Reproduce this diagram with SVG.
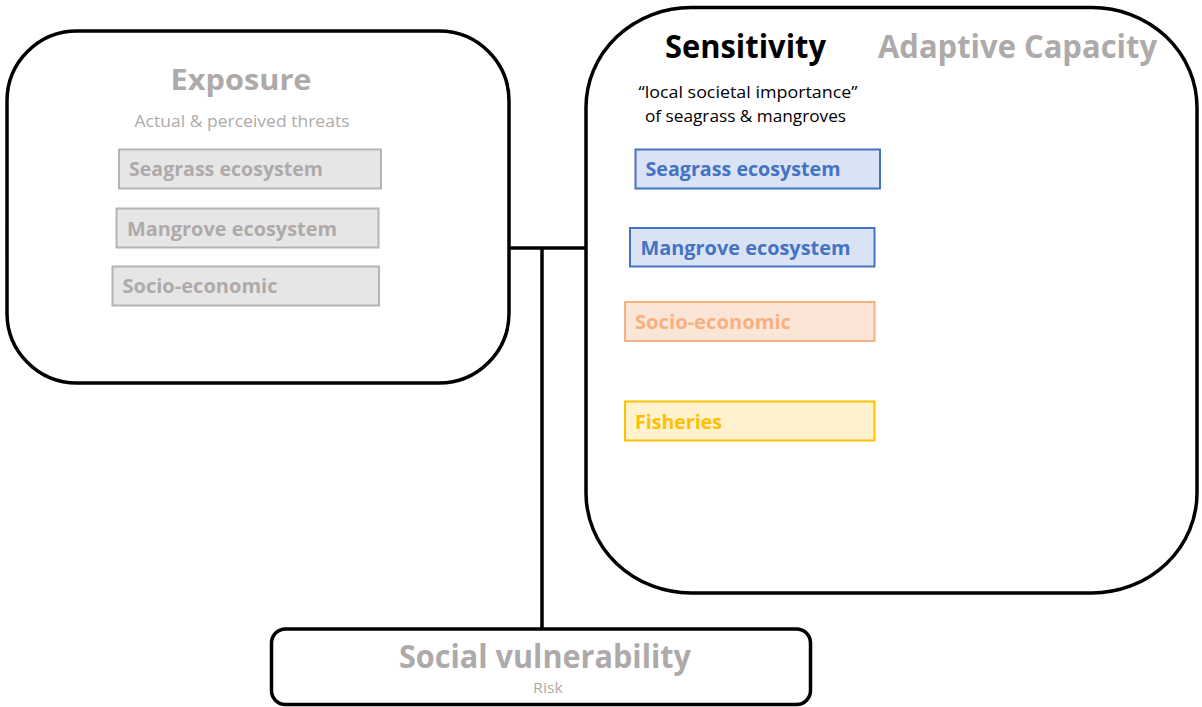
<svg xmlns="http://www.w3.org/2000/svg" width="1202" height="707" viewBox="0 0 1202 707">
<style>
text{font-family:"Open Sans","Liberation Sans",sans-serif;}
.big{fill:none;stroke:#000;stroke-width:3.5;}
.t{font-weight:bold;}
.g{fill:#aeaaaa;}
.gbox{fill:#e7e6e6;stroke:#b4b4b4;stroke-width:2;}
.bbox{fill:#dae3f3;stroke:#4472c4;stroke-width:2;}
.obox{fill:#fbe5d6;stroke:#f4b183;stroke-width:2;}
.ybox{fill:#fff2cc;stroke:#ffc000;stroke-width:2;}
.lbl{font-weight:bold;font-size:19px;}
.conn{stroke:#000;stroke-width:3.5;fill:none;}
</style>
<rect width="1202" height="707" fill="#fff"/>
<g id="connectors">
<line class="conn" x1="509" y1="248" x2="586" y2="248"/>
<line class="conn" x1="542" y1="248" x2="542" y2="629"/>
</g>
<g id="exposure">
<rect class="big" x="7" y="31" width="502" height="352" rx="70" ry="70" fill="#fff"/>
<text class="t g" x="241" y="90" font-size="28" text-anchor="middle" textLength="141" lengthAdjust="spacingAndGlyphs">Exposure</text>
<text class="g" x="242" y="127" font-size="15.5" text-anchor="middle" textLength="215" lengthAdjust="spacingAndGlyphs">Actual &amp; perceived threats</text>
<rect class="gbox" x="119" y="149.5" width="262" height="39"/>
<text class="lbl g" x="129" y="176" textLength="194" lengthAdjust="spacingAndGlyphs">Seagrass ecosystem</text>
<rect class="gbox" x="116.5" y="208.5" width="262" height="39"/>
<text class="lbl g" x="127" y="236" textLength="210" lengthAdjust="spacingAndGlyphs">Mangrove ecosystem</text>
<rect class="gbox" x="112.5" y="266.5" width="266.5" height="39"/>
<text class="lbl g" x="122.5" y="293" textLength="155" lengthAdjust="spacingAndGlyphs">Socio-economic</text>
</g>
<g id="sensitivity">
<rect class="big" x="586" y="7.5" width="611" height="585.5" rx="105" ry="100" fill="#fff"/>
<text class="t" x="665" y="58" font-size="32" fill="#000" textLength="161" lengthAdjust="spacingAndGlyphs">Sensitivity</text>
<text class="t g" x="878" y="58" font-size="32" textLength="279" lengthAdjust="spacingAndGlyphs">Adaptive Capacity</text>
<text x="638.5" y="98" font-size="16" fill="#000" textLength="219" lengthAdjust="spacingAndGlyphs">“local societal importance”</text>
<text x="645" y="122" font-size="16" fill="#000" textLength="201" lengthAdjust="spacingAndGlyphs">of seagrass &amp; mangroves</text>
<rect class="bbox" x="635.5" y="149.5" width="244.5" height="39"/>
<text class="lbl" x="645.5" y="176" fill="#4472c4" textLength="195" lengthAdjust="spacingAndGlyphs">Seagrass ecosystem</text>
<rect class="bbox" x="630" y="228" width="244.5" height="38.5"/>
<text class="lbl" x="640.5" y="255" fill="#4472c4" textLength="210" lengthAdjust="spacingAndGlyphs">Mangrove ecosystem</text>
<rect class="obox" x="625" y="302" width="249.5" height="39"/>
<text class="lbl" x="635" y="329" fill="#f4b183" textLength="156" lengthAdjust="spacingAndGlyphs">Socio-economic</text>
<rect class="ybox" x="625" y="401.5" width="249.5" height="39"/>
<text class="lbl" x="635" y="428.5" fill="#ffc000" textLength="87" lengthAdjust="spacingAndGlyphs">Fisheries</text>
</g>
<g id="social-vulnerability">
<rect class="big" x="271.5" y="629" width="539" height="75.5" rx="14" ry="14" fill="#fff"/>
<text class="t g" x="545" y="668" font-size="32" text-anchor="middle" textLength="292" lengthAdjust="spacingAndGlyphs">Social vulnerability</text>
<text class="g" x="548" y="693" font-size="14" text-anchor="middle" textLength="30" lengthAdjust="spacingAndGlyphs">Risk</text>
</g>
</svg>
